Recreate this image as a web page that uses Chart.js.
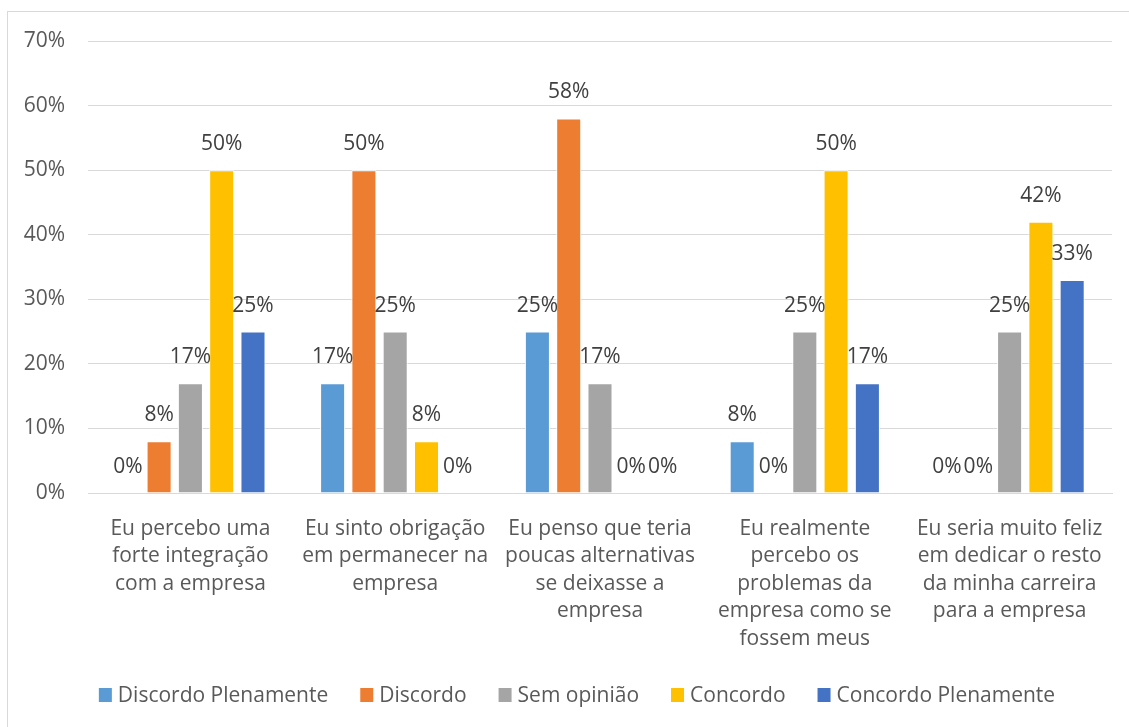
<!DOCTYPE html>
<html>
<head>
<meta charset="utf-8">
<script src="https://cdn.jsdelivr.net/npm/chart.js@4"></script>
<style>
  html, body { margin: 0; padding: 0; background: #fff; overflow: hidden; }
  #frame {
    position: absolute; left: 7px; top: 11px; width: 1130px; height: 730px;
    border: 1px solid #d9d9d9; box-sizing: border-box;
  }
  #wrap { position: absolute; left: 0; top: 0; width: 1129px; height: 727px; }
</style>
</head>
<body>
<div id="frame"></div>
<div id="wrap"><canvas id="grafico"></canvas></div>
<script>
const categorias = [
  ['Eu percebo uma', 'forte integração', 'com a empresa'],
  ['Eu sinto obrigação', 'em permanecer na', 'empresa'],
  ['Eu penso que teria', 'poucas alternativas', 'se deixasse a', 'empresa'],
  ['Eu realmente', 'percebo os', 'problemas da', 'empresa como se', 'fossem meus'],
  ['Eu seria muito feliz', 'em dedicar o resto', 'da minha carreira', 'para a empresa']
];

const discordoPlenamente = [0, 17, 25, 8, 0];
const discordo = [8, 50, 58, 0, 0];
const semOpiniao = [17, 25, 17, 25, 25];
const concordo = [50, 8, 0, 50, 42];
const concordoPlenamente = [25, 0, 0, 17, 33];

const yTicks = [0, 10, 20, 30, 40, 50, 60, 70];

const fonte = "'Open Sans', 'Noto Sans', sans-serif";

function serie(label, data, cor) {
  return {
    label: label,
    data: data,
    backgroundColor: cor,
    borderColor: '#ffffff',
    borderWidth: 1,
    categoryPercentage: 0.764,
    barPercentage: 0.8
  };
}

// rótulos de valor acima de cada barra
const rotulos = {
  id: 'rotulos',
  afterDatasetsDraw(chart) {
    const ctx = chart.ctx;
    ctx.save();
    ctx.font = '21px ' + fonte;
    ctx.fillStyle = '#404040';
    ctx.textAlign = 'center';
    ctx.textBaseline = 'middle';
    chart.data.datasets.forEach((ds, i) => {
      chart.getDatasetMeta(i).data.forEach((bar, j) => {
        ctx.fillText(ds.data[j] + '%', bar.x, bar.y - 26);
      });
    });
    ctx.restore();
  }
};

// legenda desenhada embaixo
const legenda = {
  id: 'legenda',
  afterDraw(chart) {
    const ctx = chart.ctx;
    ctx.save();
    ctx.font = '21px ' + fonte;
    ctx.textBaseline = 'middle';
    const caixa = 13, espacoTexto = 6, gap = 32;
    const itens = chart.data.datasets.map(ds => ({
      label: ds.label, cor: ds.backgroundColor, w: ctx.measureText(ds.label).width
    }));
    let total = 0;
    itens.forEach((it, i) => { total += caixa + espacoTexto + it.w + (i ? gap : 0); });
    let x = 577 - total / 2;
    const y = 695;
    itens.forEach(it => {
      ctx.fillStyle = it.cor;
      ctx.fillRect(x, y - 7, caixa, 14);
      ctx.fillStyle = '#595959';
      ctx.fillText(it.label, x + caixa + espacoTexto, y + 1);
      x += caixa + espacoTexto + it.w + gap;
    });
    ctx.restore();
  }
};

new Chart(document.getElementById('grafico'), {
  type: 'bar',
  data: {
    labels: categorias,
    datasets: [
      serie('Discordo Plenamente', discordoPlenamente, '#5b9bd5'),
      serie('Discordo', discordo, '#ed7d31'),
      serie('Sem opinião', semOpiniao, '#a5a5a5'),
      serie('Concordo', concordo, '#ffc000'),
      serie('Concordo Plenamente', concordoPlenamente, '#4472c4')
    ]
  },
  options: {
    responsive: true,
    maintainAspectRatio: false,
    animation: false,
    layout: { padding: { left: 0, top: 41, right: 17, bottom: 54 } },
    plugins: {
      legend: { display: false },
      tooltip: { enabled: false }
    },
    scales: {
      x: {
        grid: { display: false, drawTicks: false },
        border: { display: true, color: '#d9d9d9', width: 1 },
        ticks: {
          color: '#595959',
          font: { family: fonte, size: 21, lineHeight: 1.31 },
          padding: 22,
          maxRotation: 0,
          autoSkip: false
        },
        afterFit(scale) { scale.height = 180; }
      },
      y: {
        min: 0,
        max: 70,
        afterBuildTicks(scale) { scale.ticks = yTicks.map(v => ({ value: v })); },
        grid: { color: '#d9d9d9', lineWidth: 1, drawTicks: false },
        border: { display: false },
        ticks: {
          color: '#595959',
          font: { family: fonte, size: 21 },
          padding: 23,
          callback: v => v + '%'
        },
        afterFit(scale) { scale.width = 88; }
      }
    }
  },
  plugins: [rotulos, legenda]
});
</script>
</body>
</html>
